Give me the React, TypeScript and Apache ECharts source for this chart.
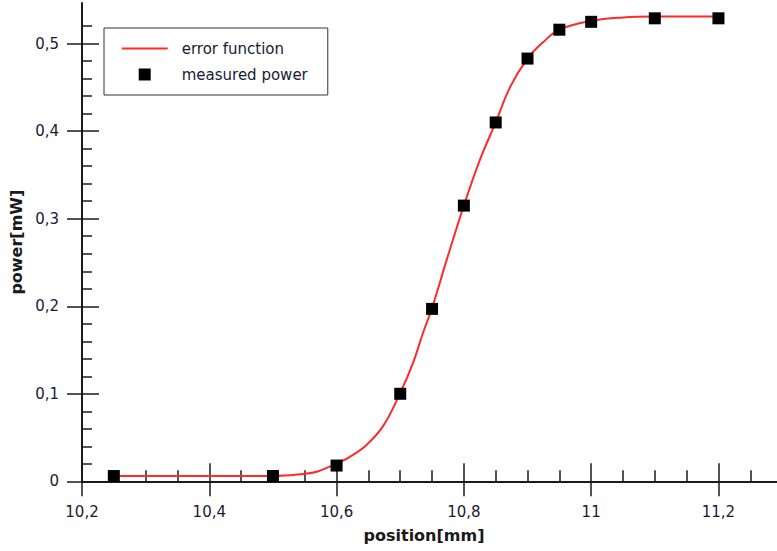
import React, { useEffect, useRef } from "react";
import * as echarts from "echarts";

// measured points
const pointsX = [10.25, 10.5, 10.6, 10.7, 10.75, 10.8, 10.85, 10.9, 10.95, 11.0, 11.1, 11.2];
const pointsY = [0.006, 0.006, 0.018, 0.1, 0.197, 0.315, 0.41, 0.483, 0.516, 0.525, 0.529, 0.529];

// fitted error function curve
const curveX = [10.25, 10.3, 10.4, 10.5, 10.543, 10.569, 10.595, 10.621, 10.647, 10.673, 10.7, 10.72, 10.736, 10.75, 10.773, 10.8, 10.825, 10.85, 10.873, 10.9, 10.925, 10.95, 11.0, 11.05, 11.1, 11.2];
const curveY = [0.006, 0.006, 0.006, 0.006, 0.008, 0.011, 0.0186, 0.028, 0.0415, 0.063, 0.101, 0.135, 0.17, 0.198, 0.253, 0.315, 0.367, 0.41, 0.451, 0.483, 0.502, 0.516, 0.526, 0.530, 0.531, 0.531];

// ticks
const xMajorTicks = [10.2, 10.4, 10.6, 10.8, 11.0, 11.2];
const xMinorTicks = [10.25, 10.3, 10.35, 10.45, 10.5, 10.55, 10.65, 10.7, 10.75, 10.85, 10.9, 10.95, 11.05, 11.1, 11.15, 11.25];
const yMajorTicks = [0, 0.1, 0.2, 0.3, 0.4, 0.5];
const yMinorTicks = [0.02, 0.04, 0.06, 0.08, 0.12, 0.14, 0.16, 0.18, 0.22, 0.24, 0.26, 0.28, 0.32, 0.34, 0.36, 0.38, 0.42, 0.44, 0.46, 0.48, 0.52];

const seriesNames = ["error function", "measured power"];

const FONT = "DejaVu Sans";
const LABEL_COLOR = "#1a1a33";
const AXIS_COLOR = "#1a1a1a";
const LINE_COLOR = "#ff2a2a";

export default function App() {
  const ref = useRef<HTMLDivElement>(null);

  useEffect(() => {
    if (!ref.current) return;
    const chart = echarts.init(ref.current, undefined, { renderer: "svg" });
    const fmt = (v: number) => String(v).replace(".", ",");
    const X_MIN = 10.2, X_MAX = 11.292, Y_MIN = 0, Y_MAX = 0.5465;

    const baseX = {
      type: "value" as const,
      min: X_MIN,
      max: X_MAX,
      position: "bottom" as const,
      splitLine: { show: false },
    };
    const baseY = {
      type: "value" as const,
      min: Y_MIN,
      max: Y_MAX,
      position: "left" as const,
      splitLine: { show: false },
    };

    chart.setOption({
      animation: false,
      backgroundColor: "#ffffff",
      grid: { left: 82, right: 0, top: 3, bottom: 69.7, containLabel: false },
      legend: {
        orient: "vertical",
        left: 104,
        top: 28,
        padding: [13, 20, 13, 17.7],
        itemWidth: 46,
        itemHeight: 12,
        itemGap: 11,
        borderColor: "#333333",
        borderWidth: 1,
        backgroundColor: "#ffffff",
        textStyle: { fontFamily: FONT, fontSize: 15, color: LABEL_COLOR, padding: [0, 0, 0, 9] },
        data: [
          { name: seriesNames[0], icon: "path://M0 0H46V2H0Z", itemStyle: { color: LINE_COLOR } },
          { name: seriesNames[1], icon: "path://M0 0H12V12H0Z" },
        ],
      },
      xAxis: [
        {
          ...baseX,
          name: "position[mm]",
          nameLocation: "middle",
          nameGap: 46,
          nameTextStyle: { fontFamily: FONT, fontSize: 16, fontWeight: "bold", color: "#1a1a1a", padding: [0, 11, 0, 0] },
          axisLine: { show: true, lineStyle: { color: AXIS_COLOR, width: 2 } },
          axisTick: { show: true, inside: false, length: 15, customValues: xMajorTicks, lineStyle: { color: AXIS_COLOR, width: 1.5 } },
          axisLabel: { show: true, customValues: xMajorTicks, margin: 23, formatter: fmt, fontFamily: FONT, fontSize: 15, color: LABEL_COLOR },
        },
        {
          ...baseX,
          axisLine: { show: false },
          axisTick: { show: true, inside: true, length: 18, customValues: xMajorTicks, lineStyle: { color: AXIS_COLOR, width: 1.5 } },
          axisLabel: { show: false },
        },
        {
          ...baseX,
          axisLine: { show: false },
          axisTick: { show: true, inside: true, length: 11, customValues: xMinorTicks, lineStyle: { color: AXIS_COLOR, width: 1.5 } },
          axisLabel: { show: false },
        },
      ],
      yAxis: [
        {
          ...baseY,
          name: "power[mW]",
          nameLocation: "middle",
          nameGap: 48,
          nameRotate: 90,
          nameTextStyle: { fontFamily: FONT, fontSize: 16, fontWeight: "bold", color: "#1a1a1a" },
          axisLine: { show: true, lineStyle: { color: AXIS_COLOR, width: 2 } },
          axisTick: { show: true, inside: false, length: 15, customValues: yMajorTicks, lineStyle: { color: AXIS_COLOR, width: 1.5 } },
          axisLabel: { show: true, customValues: yMajorTicks, margin: 23, formatter: fmt, fontFamily: FONT, fontSize: 15, color: LABEL_COLOR },
        },
        {
          ...baseY,
          axisLine: { show: false },
          axisTick: { show: true, inside: true, length: 17, customValues: yMajorTicks, lineStyle: { color: AXIS_COLOR, width: 1.5 } },
          axisLabel: { show: false },
        },
        {
          ...baseY,
          axisLine: { show: false },
          axisTick: { show: true, inside: true, length: 10, customValues: yMinorTicks, lineStyle: { color: AXIS_COLOR, width: 1.5 } },
          axisLabel: { show: false },
        },
      ],
      series: [
        {
          name: seriesNames[0],
          type: "line",
          xAxisIndex: 0,
          yAxisIndex: 0,
          smooth: 0.4,
          symbol: "none",
          showSymbol: false,
          lineStyle: { color: LINE_COLOR, width: 2 },
          itemStyle: { color: LINE_COLOR },
          data: curveX.map((x, i) => [x, curveY[i]]),
          z: 2,
        },
        {
          name: seriesNames[1],
          type: "scatter",
          xAxisIndex: 0,
          yAxisIndex: 0,
          symbol: "rect",
          symbolSize: 12,
          itemStyle: { color: "#000000", opacity: 1 },
          data: pointsX.map((x, i) => [x, pointsY[i]]),
          z: 3,
        },
      ],
    });
    return () => chart.dispose();
  }, []);

  return (
    <div
      ref={ref}
      style={{ position: "fixed", left: 0, top: 0, width: 777, height: 551, background: "#fff" }}
    />
  );
}
